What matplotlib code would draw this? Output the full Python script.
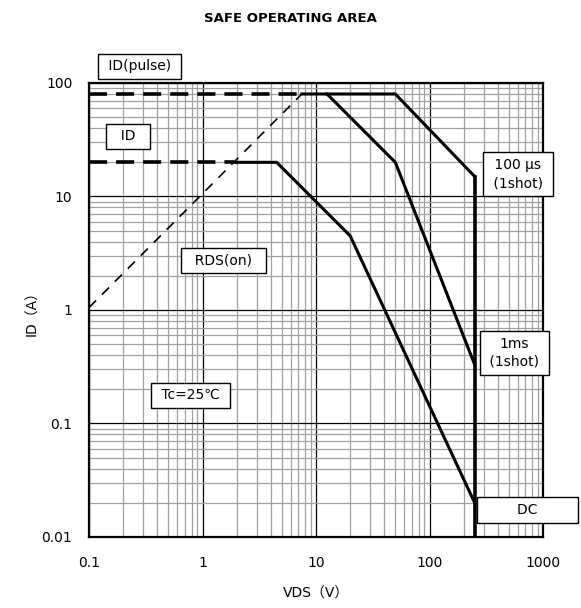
import matplotlib.pyplot as plt
from matplotlib.ticker import FixedLocator, LogLocator, NullFormatter

plt.rcParams['font.family'] = ['DejaVu Sans', 'Noto Sans CJK JP']

# safe operating area boundaries (VDS in V, ID in A)
pulse_limit_v = [0.1, 7.5]
pulse_limit_i = [80, 80]
id_limit_v = [0.1, 1.9]
id_limit_i = [20, 20]
rds_on_v = [0.1, 7.5]
rds_on_i = [1.05, 80]

dc_v = [1.9, 4.5, 20, 250]
dc_i = [20, 20, 4.5, 0.02]
ms1_v = [7.5, 12.5, 50, 250]
ms1_i = [80, 80, 20, 0.33]
us100_v = [12.5, 50, 250]
us100_i = [80, 80, 15]
vmax_v = [250, 250]
vmax_i = [0.01, 15]

ticks_x = [0.1, 1, 10, 100, 1000]
ticks_y = [0.01, 0.1, 1, 10, 100]
tick_labels_x = ['0.1', '1', '10', '100', '1000']
tick_labels_y = ['0.01', '0.1', '1', '10', '100']

fig = plt.figure(figsize=(5.81, 6.08), dpi=100)
ax = fig.add_axes([0.1532, 0.1168, 0.7814, 0.7467])
ax.set_xscale('log')
ax.set_yscale('log')
ax.set_xlim(0.1, 1000)
ax.set_ylim(0.01, 100)

# curves
ax.plot(pulse_limit_v, pulse_limit_i, color='black', lw=2.6, ls=(0, (5, 2.5)))
ax.plot(id_limit_v, id_limit_i, color='black', lw=2.6, ls=(0, (5, 2.5)))
ax.plot(rds_on_v, rds_on_i, color='black', lw=1.2, ls=(0, (6, 5)))
ax.plot(dc_v, dc_i, color='black', lw=2.2)
ax.plot(ms1_v, ms1_i, color='black', lw=2.2)
ax.plot(us100_v, us100_i, color='black', lw=2.2)
ax.plot(vmax_v, vmax_i, color='black', lw=2.6)

# grid
ax.xaxis.set_major_locator(FixedLocator(ticks_x))
ax.yaxis.set_major_locator(FixedLocator(ticks_y))
ax.xaxis.set_minor_locator(LogLocator(base=10, subs=range(2, 10)))
ax.yaxis.set_minor_locator(LogLocator(base=10, subs=range(2, 10)))
ax.xaxis.set_minor_formatter(NullFormatter())
ax.yaxis.set_minor_formatter(NullFormatter())
ax.set_xticklabels(tick_labels_x)
ax.set_yticklabels(tick_labels_y)
ax.grid(which='minor', color='#a0a0a0', lw=0.9)
ax.grid(which='major', color='black', lw=0.9)
ax.set_axisbelow(True)
ax.tick_params(which='both', length=0, labelsize=10)
ax.tick_params(axis='x', pad=14)
ax.tick_params(axis='y', pad=12)
for s in ax.spines.values():
    s.set_linewidth(1.6)

# labels
box = dict(boxstyle='square,pad=0.4', fc='white', ec='black', lw=1)
ax.text(0.28, 141, ' ID(pulse) ', ha='center', va='center', fontsize=10, bbox=box, clip_on=False)
ax.text(0.22, 34, '  ID  ', ha='center', va='center', fontsize=10, bbox=box)
ax.text(600, 15.8, ' 100 μs \n (1shot) ', ha='center', va='center', fontsize=10,
        bbox=box, clip_on=False, linespacing=1.4)
ax.text(560, 0.42, '1ms\n (1shot) ', ha='center', va='center', fontsize=10,
        bbox=box, clip_on=False, linespacing=1.4)
ax.text(730, 0.0173, '        DC        ', ha='center', va='center', fontsize=10,
        bbox=box, clip_on=False)
ax.text(1.53, 2.75, '  RDS(on)  ', ha='center', va='center', fontsize=10, bbox=box)
ax.text(0.785, 0.178, ' Tc=25℃ ', ha='center', va='center', fontsize=10, bbox=box)

fig.text(0.5, 0.97, 'SAFE OPERATING AREA', ha='center', va='center',
         fontsize=9.5, fontweight='bold')
ax.set_xlabel('VDS（V）', fontsize=10, labelpad=12)
ax.set_ylabel('ID（A）', fontsize=10, labelpad=2)

fig.savefig('out.png', dpi=100)
